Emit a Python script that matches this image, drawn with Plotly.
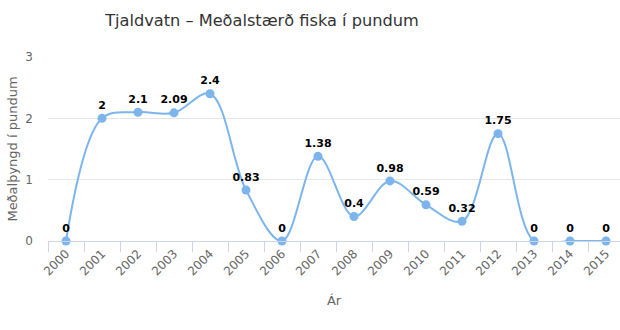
import plotly.graph_objects as go

years = [str(y) for y in range(2000, 2016)]
values = [0, 2, 2.1, 2.09, 2.4, 0.83, 0, 1.38, 0.4, 0.98, 0.59, 0.32, 1.75, 0, 0, 0]
labels = ["0", "2", "2.1", "2.09", "2.4", "0.83", "0", "1.38", "0.4", "0.98", "0.59", "0.32", "1.75", "0", "0", "0"]

fig = go.Figure()
fig.add_trace(go.Scatter(
    x=years, y=values, mode="lines+markers+text",
    text=labels, textposition="top center",
    textfont=dict(family="DejaVu Sans", size=11, color="#000000", weight="bold"),
    line=dict(color="#7cb5ec", width=2, shape="spline", smoothing=1),
    marker=dict(color="#7cb5ec", size=9),
    cliponaxis=False, showlegend=False,
))

fig.update_layout(
    width=620, height=330,
    margin=dict(l=48, r=0, t=57, b=89),
    paper_bgcolor="white", plot_bgcolor="white",
    title=dict(text="Tjaldvatn – Meðalstærð fiska í pundum", x=(262-48)/572, xanchor="center", xref="paper",
               y=1 - 20/330, yanchor="middle",
               font=dict(family="DejaVu Sans", size=16.2, color="#333333")),
    font=dict(family="DejaVu Sans", color="#666666"),
)
fig.update_xaxes(
    type="category", range=[-0.5, -0.5 + 572 / 36.0],
    tickson="boundaries", ticks="outside", ticklen=10, tickcolor="#ccd6eb",
    showline=True, linecolor="#ccd6eb", linewidth=1,
    tickangle=-45, tickfont=dict(size=12, color="#666666"),
    showgrid=False,
    title=dict(text="Ár", font=dict(size=13, color="#666666"), standoff=18),
)
fig.update_yaxes(
    range=[0, 3], tickvals=[0, 1, 2, 3], showgrid=True, gridcolor="#e6e6e6",
    zeroline=False, showline=False, ticks="", ticklabelstandoff=14,
    tickfont=dict(size=12, color="#666666"),
    title=dict(text="Meðalþyngd í pundum", font=dict(size=13, color="#666666"), standoff=4),
)
fig.write_html("out.html")
